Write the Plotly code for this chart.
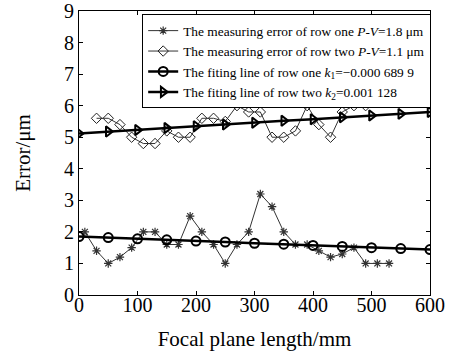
import plotly.graph_objects as go

# Row one measured error (µm)
x_row1 = [10, 30, 50, 70, 90, 110, 130, 150, 170, 190, 210, 230, 250, 270, 290, 310,
          330, 350, 370, 390, 410, 430, 450, 470, 490, 510, 530]
y_row1 = [2.0, 1.4, 1.0, 1.2, 1.5, 2.0, 2.0, 1.6, 1.6, 2.5, 2.0, 1.6, 1.0, 1.6, 2.0, 3.2,
          2.8, 2.0, 1.6, 1.6, 1.4, 1.2, 1.3, 1.5, 1.0, 1.0, 1.0]

# Row two measured error (µm)
x_row2 = [30, 50, 70, 90, 110, 130, 150, 170, 190, 210, 230, 250, 270, 290, 310,
          330, 350, 370, 390, 410, 430, 450, 470, 490]
y_row2 = [5.6, 5.6, 5.4, 5.0, 4.8, 4.8, 5.2, 5.0, 5.0, 5.6, 5.6, 5.5, 6.0, 5.8, 5.8,
          5.0, 5.0, 5.2, 6.0, 5.4, 5.0, 5.8, 6.0, 6.0]

# Fitting lines
x_fit = [0, 50, 100, 150, 200, 250, 300, 350, 400, 450, 500, 550, 600]
y_fit1 = [1.85, 1.82, 1.78, 1.75, 1.71, 1.68, 1.64, 1.61, 1.57, 1.54, 1.50, 1.47, 1.44]
y_fit2 = [5.12, 5.18, 5.23, 5.29, 5.35, 5.40, 5.46, 5.52, 5.57, 5.63, 5.69, 5.74, 5.80]

names = [
    "The measuring error of row one <i>P</i>-<i>V</i>=1.8 μm",
    "The measuring error of row two <i>P</i>-<i>V</i>=1.1 μm",
    "The fiting line of row one <i>k</i><sub>1</sub>=−0.000 689 9",
    "The fiting line of row two <i>k</i><sub>2</sub>=0.001 128",
]

FONT = "Liberation Serif"

fig = go.Figure()
fig.add_trace(go.Scatter(x=x_row1, y=y_row1, mode="lines+markers", name=names[0],
                         line=dict(color="#333333", width=1),
                         marker=dict(symbol="asterisk-open", size=7,
                                     line=dict(color="#222222", width=1.2))))
fig.add_trace(go.Scatter(x=x_row2, y=y_row2, mode="lines+markers", name=names[1],
                         line=dict(color="#333333", width=1),
                         marker=dict(symbol="diamond-open", size=8, color="#222222",
                                     line=dict(color="#222222", width=1))))
fig.add_trace(go.Scatter(x=x_fit, y=y_fit1, mode="lines+markers", name=names[2],
                         line=dict(color="black", width=2.5),
                         marker=dict(symbol="circle-open", size=9, color="black",
                                     line=dict(color="black", width=2))))
fig.add_trace(go.Scatter(x=x_fit, y=y_fit2, mode="lines+markers", name=names[3],
                         line=dict(color="black", width=2.5),
                         marker=dict(symbol="triangle-right-open", size=9, color="black",
                                     line=dict(color="black", width=2))))

axis_common = dict(showgrid=False, zeroline=False, showline=True, linecolor="black",
                   linewidth=1, mirror="ticks", ticks="inside", ticklen=4,
                   tickcolor="black", automargin=False,
                   tickfont=dict(family=FONT, size=20, color="black"))

fig.update_xaxes(range=[0, 600], tickvals=[0, 100, 200, 300, 400, 500, 600],
                 ticklabelstandoff=-8,
                 title=dict(text="Focal plane length/mm", font=dict(family=FONT, size=21, color="black"),
                            standoff=16),
                 **axis_common)
fig.update_yaxes(range=[0, 9], tickvals=list(range(10)),
                 title=dict(text="Error/μm", font=dict(family=FONT, size=21, color="black"),
                            standoff=27),
                 **axis_common)

fig.update_layout(
    width=451, height=353,
    margin=dict(l=79, r=21, t=11, b=58),
    paper_bgcolor="white", plot_bgcolor="white",
    font=dict(family=FONT, color="black"),
    legend=dict(x=0.18, y=0.988, xanchor="left", yanchor="top",
                bgcolor="white", bordercolor="black", borderwidth=1,
                font=dict(family=FONT, size=13.4, color="black"),
                tracegroupgap=0, itemwidth=30),
    showlegend=True,
)

fig.write_html("out.html", config={"displayModeBar": False},
               post_script="document.body.style.margin='0px';")
